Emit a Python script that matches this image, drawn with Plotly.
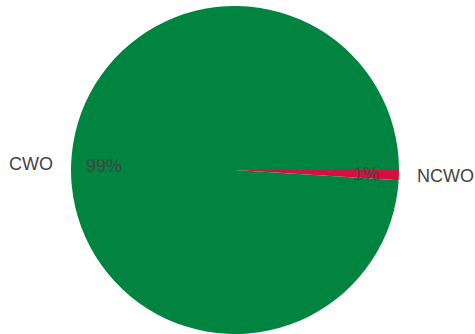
import math
import plotly.graph_objects as go

labels = ["CWO", "NCWO"]
values = [99, 1]
colors = ["#00843f", "#d60f3f"]

W, H = 475, 334
R = 164            # pie radius in px
CX, CY = 235, 170  # pie centre, px from the figure's top-left

# NCWO first, clockwise from 3 o'clock -> thin slice just below the horizontal
fig = go.Figure(go.Pie(
    labels=labels[::-1], values=values[::-1], sort=False, direction="clockwise", rotation=90,
    marker=dict(colors=colors[::-1], line=dict(width=0)),
    textinfo="none", showlegend=False, hoverinfo="label+percent",
    domain=dict(x=[(CX - R) / W, (CX + R) / W], y=[0, 1 - (CY - R) / H]),
))

# labels at 1.1R and percents at 0.8R along each slice's mid-angle
font = dict(family="Liberation Sans, Arial", size=18, color="#444444")
total = sum(values)
start = 0.0
for lab, v in zip(labels, values):
    span = 360.0 * v / total
    mid = math.radians(start + span / 2)
    start += span
    c, s = math.cos(mid), math.sin(mid)
    fig.add_annotation(
        x=(CX + 1.1 * R * c) / W, y=1 - (CY - 1.1 * R * s) / H,
        xref="paper", yref="paper", text=lab, showarrow=False, font=font,
        xanchor="left" if c > 0 else "right", yanchor="middle",
    )
    fig.add_annotation(
        x=(CX + 0.8 * R * c) / W, y=1 - (CY - 0.8 * R * s) / H,
        xref="paper", yref="paper", text=f"{v / total * 100:.0f}%", showarrow=False,
        font=font, xanchor="center", yanchor="middle",
    )

fig.update_layout(
    width=W, height=H,
    margin=dict(l=0, r=0, t=0, b=0),
    paper_bgcolor="white",
    showlegend=False,
)

fig.write_html("out.html", config={"displayModeBar": False},
               post_script="document.body.style.margin='0';document.body.style.overflow='hidden';")
